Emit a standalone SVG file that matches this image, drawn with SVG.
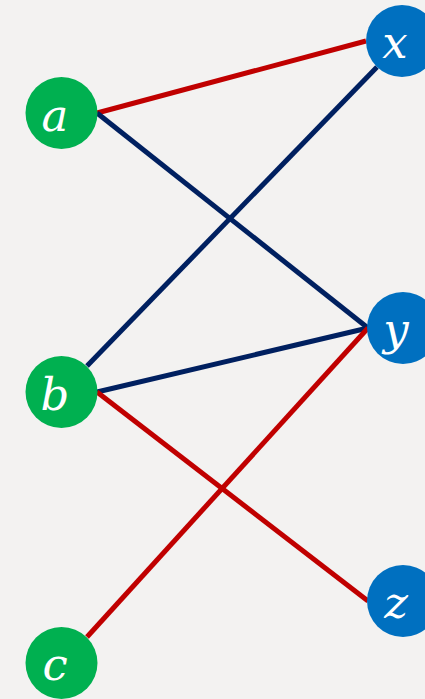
<svg xmlns="http://www.w3.org/2000/svg" width="425" height="699" viewBox="0 0 425 699">
<style>
.bg{fill:#f3f2f1}
.l{fill:#00b050}
.r{fill:#0070c0}
.e{stroke-width:5;fill:none}
.red{stroke:#c00000}
.navy{stroke:#002060}
text{font-family:"DejaVu Serif","Liberation Serif",serif;font-style:italic;font-size:45px;fill:#ffffff;text-anchor:middle}
</style>
<rect class="bg" x="0" y="0" width="425" height="699"/>
<g id="connectors">
<line class="e red" x1="97" y1="113" x2="366" y2="41"/>
<line class="e navy" x1="97" y1="113" x2="368" y2="328"/>
<line class="e navy" x1="87" y1="366" x2="377" y2="67"/>
<line class="e navy" x1="97" y1="392" x2="368" y2="328"/>
<line class="e red" x1="97" y1="392" x2="368" y2="601"/>
<line class="e red" x1="87" y1="637" x2="368" y2="328"/>
</g>
<g id="node-a"><circle class="l" cx="61.5" cy="113" r="36"/><text x="55" y="131">a</text></g>
<g id="node-b"><circle class="l" cx="61.5" cy="392" r="36"/><text x="55" y="410">b</text></g>
<g id="node-c"><circle class="l" cx="61.5" cy="663" r="36"/><text x="55" y="680">c</text></g>
<g id="node-x"><circle class="r" cx="402" cy="41" r="36"/><text x="395" y="58">x</text></g>
<g id="node-y"><circle class="r" cx="403" cy="328" r="36"/><text x="396" y="345">y</text></g>
<g id="node-z"><circle class="r" cx="403" cy="601" r="36"/><text x="396" y="618">z</text></g>
</svg>
